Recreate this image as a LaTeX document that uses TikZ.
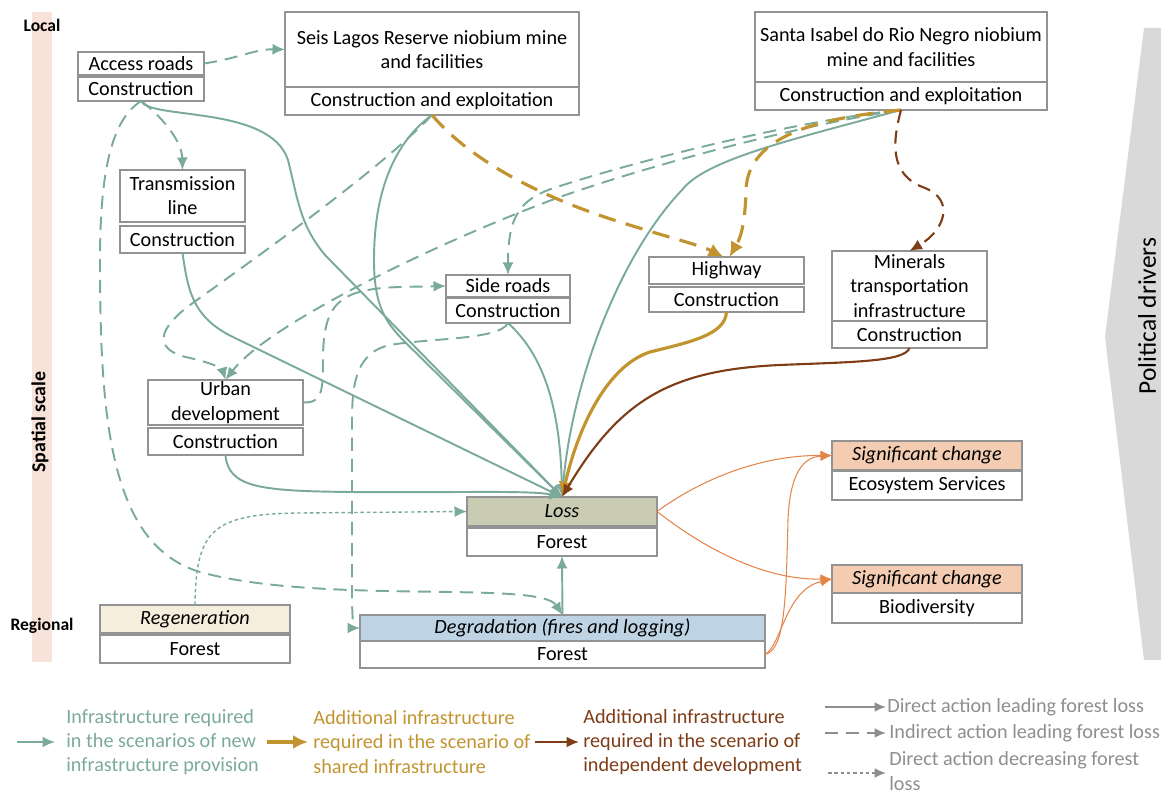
\documentclass[tikz,border=0pt]{standalone}
\usepackage{fontspec}
\setmainfont{Carlito}
\usetikzlibrary{arrows.meta,positioning}
\definecolor{infrateal}{HTML}{7AAA9B}
\definecolor{sharedgold}{HTML}{C2942F}
\definecolor{indepbrown}{HTML}{7E3C17}
\definecolor{impactorange}{HTML}{E4854A}
\definecolor{boxgrey}{HTML}{939393}
\definecolor{legendgrey}{HTML}{8E8E8E}
\definecolor{lossfill}{HTML}{C9CCB3}
\definecolor{degfill}{HTML}{BED3E3}
\definecolor{regenfill}{HTML}{F6EEDD}
\definecolor{changefill}{HTML}{F3CCB2}
\definecolor{scalebar}{HTML}{F7E3D9}
\definecolor{drivergrey}{HTML}{D9D9D9}
\newcommand{\boxfont}{\fontsize{11.5}{13.8}\selectfont}
\tikzset{
  stagebox/.style={draw=boxgrey,line width=0.8pt,fill=white,align=center,inner sep=0.5pt,outer sep=0pt,font=\boxfont},
  effectbox/.style={stagebox,font=\boxfont\itshape},
  newinfra/.style={-{Latex[length=2.5mm,width=2.2mm]},line width=1.1pt,infrateal},
  sharedinfra/.style={-{Latex[length=3mm,width=2.8mm]},line width=1.8pt,sharedgold},
  indepinfra/.style={-{Latex[length=2.5mm,width=2.2mm]},line width=1.2pt,indepbrown},
  indirect/.style={dash pattern=on 7.5pt off 4.5pt},
  wideindirect/.style={dash pattern=on 10pt off 6pt},
  decreasing/.style={dash pattern=on 2pt off 1.6pt,line width=0.8pt},
  impact/.style={-{Latex[length=2.3mm,width=2mm]},line width=0.6pt,impactorange},
  legendtext/.style={anchor=west,align=left,inner sep=0pt,font=\boxfont},
  legendarrow/.style={-{Latex[length=2.3mm,width=2mm]},line width=1.1pt,legendgrey},
  scalelabel/.style={font=\fontsize{10}{12}\selectfont\bfseries}
}

\begin{document}
\begin{tikzpicture}[x=0.02cm,y=-0.02cm]
  \useasboundingbox (0,0) rectangle (1161,793);

  % Spatial scale and political drivers
  \fill[scalebar] (32,12) rectangle (52,662);
  \node[scalelabel] (local) at (42,25) {Local};
  \node[scalelabel] (regional) at (42,626) {Regional};
  \node[scalelabel,font=\fontsize{11.3}{13}\selectfont\bfseries,rotate=90] (spatial) at (40,422) {Spatial scale};
  \fill[drivergrey] (1144,28) -- (1161,28) -- (1161,660) -- (1144,660) -- (1105,337) -- cycle;
  \node[font=\fontsize{14.5}{17}\selectfont,rotate=90,inner sep=0pt] (drivers) at (1147,316) {Political drivers};

  % Infrastructure
  \node[stagebox,minimum width=2.52cm,minimum height=0.46cm] (access) at (141,63.5) {Access roads};
  \node[stagebox,minimum width=2.52cm,minimum height=0.48cm,below=0.04cm of access] (accessc) {Construction};
  \node[stagebox,minimum width=5.88cm,minimum height=1.5cm] (seis) at (432,49.5) {Seis Lagos Reserve niobium mine\\and facilities};
  \node[stagebox,minimum width=5.88cm,minimum height=0.56cm,below=0pt of seis] (seisc) {Construction and exploitation};
  \node[stagebox,minimum width=5.84cm,minimum height=1.4cm] (santa) at (901,47) {Santa Isabel do Rio Negro niobium\\mine and facilities};
  \node[stagebox,minimum width=5.84cm,minimum height=0.56cm,below=0pt of santa] (santac) {Construction and exploitation};
  \node[stagebox,minimum width=2.5cm,minimum height=1.04cm] (trans) at (182.5,196) {Transmission\\line};
  \node[stagebox,minimum width=2.5cm,minimum height=0.54cm,below=0.08cm of trans] (transc) {Construction};
  \node[stagebox,minimum width=2.48cm,minimum height=0.44cm] (side) at (508,286) {Side roads};
  \node[stagebox,minimum width=2.48cm,minimum height=0.5cm,below=0.02cm of side] (sidec) {Construction};
  \node[stagebox,minimum width=3.1cm,minimum height=0.9cm] (urban) at (225.5,402.5) {Urban\\development};
  \node[stagebox,minimum width=3.1cm,minimum height=0.54cm,below=0.06cm of urban] (urbanc) {Construction};
  \node[stagebox,minimum width=3.1cm,minimum height=0.54cm] (highway) at (726.5,270.5) {Highway};
  \node[stagebox,minimum width=3.1cm,minimum height=0.5cm,below=0.06cm of highway] (highwayc) {Construction};
  \node[stagebox,minimum width=3.1cm,minimum height=1.4cm] (minerals) at (909.5,286) {Minerals\\transportation\\infrastructure};
  \node[stagebox,minimum width=3.1cm,minimum height=0.54cm,below=0pt of minerals] (mineralsc) {Construction};

  % Forest outcomes
  \node[effectbox,fill=lossfill,minimum width=3.8cm,minimum height=0.58cm] (loss) at (562,511.5) {Loss};
  \node[stagebox,minimum width=3.8cm,minimum height=0.56cm,below=0.04cm of loss] (lossf) {Forest};
  \node[effectbox,fill=regenfill,minimum width=3.8cm,minimum height=0.56cm] (regen) at (195,619) {Regeneration};
  \node[stagebox,minimum width=3.8cm,minimum height=0.56cm,below=0.04cm of regen] (regenf) {Forest};
  \node[effectbox,fill=degfill,minimum width=8.1cm,minimum height=0.52cm] (degr) at (562.5,628) {Degradation (fires and logging)};
  \node[stagebox,minimum width=8.1cm,minimum height=0.54cm,below=0pt of degr] (degrf) {Forest};

  % Impacts
  \node[effectbox,fill=changefill,minimum width=3.8cm,minimum height=0.58cm] (ecochange) at (927,455.5) {Significant change};
  \node[stagebox,minimum width=3.8cm,minimum height=0.58cm,below=0.02cm of ecochange] (ecoserv) {Ecosystem Services};
  \node[effectbox,fill=changefill,minimum width=3.8cm,minimum height=0.56cm] (biochange) at (927,579) {Significant change};
  \node[stagebox,minimum width=3.8cm,minimum height=0.6cm,below=0pt of biochange] (biodiv) {Biodiversity};

  % New infrastructure provision
  \draw[newinfra,indirect] (access.east) .. controls (240,58) and (255,49) .. (seis.west);
  \draw[newinfra,indirect] (accessc.south) .. controls (160,115) and (182,140) .. (trans.north);
  \draw[newinfra] (accessc.south) .. controls (150,120) and (270,105) .. (288,160) .. controls (298,200) and (300,225) .. (325,255) -- (loss.north);
  \draw[newinfra,indirect] (accessc.south) .. controls (115,118) and (100,160) .. (100,260) .. controls (100,420) and (110,545) .. (200,572) .. controls (320,605) and (540,580) .. (degr.north);
  \draw[newinfra] (transc.south) .. controls (188,290) and (192,318) .. (235,338) -- (loss.north);
  \draw[newinfra] (seisc.south) .. controls (395,142) and (374,190) .. (374,260) .. controls (374,305) and (385,322) .. (405,342) -- (loss.north);
  \draw[newinfra,indirect] (seisc.south) .. controls (380,170) and (250,262) .. (190,305) .. controls (150,335) and (160,352) .. (190,358) .. controls (208,362) and (222,368) .. (urban.north);
  \draw[newinfra,indirect] (santac.south) .. controls (800,125) and (650,165) .. (560,197) .. controls (450,237) and (270,322) .. (urban.north);
  \draw[newinfra,indirect] (santac.south) .. controls (800,120) and (640,160) .. (560,186) .. controls (520,198) and (508,215) .. (side.north);
  \draw[newinfra] (santac.south) .. controls (790,140) and (705,160) .. (682,190) .. controls (620,255) and (572,380) .. (loss.north);
  \draw[newinfra] (sidec.south) .. controls (532,345) and (560,385) .. (loss.north);
  \draw[newinfra,indirect] (sidec.south) .. controls (500,340) and (430,338) .. (390,345) .. controls (358,352) and (352,380) .. (352,420) -- (352,598) .. controls (352,620) and (355,628) .. (degr.west);
  \draw[newinfra,indirect] (urban.east) .. controls (322,403) and (323,392) .. (323,360) .. controls (323,302) and (340,289) .. (400,287) -- (side.west);
  \draw[newinfra] (urbanc.south) .. controls (228,488) and (262,491) .. (350,492) .. controls (450,493) and (530,490) .. (loss.north);
  \draw[newinfra] (degr.north) -- (lossf.south);
  \draw[newinfra,decreasing] (regen.north) .. controls (196,530) and (212,514) .. (300,513) -- (loss.west);

  % Shared infrastructure
  \draw[sharedinfra,wideindirect] (seisc.south) .. controls (470,160) and (540,197) .. (620,222) .. controls (670,238) and (700,245) .. ([xshift=-0.06cm]highway.north);
  \draw[sharedinfra,wideindirect] (santac.south) .. controls (820,118) and (748,135) .. (746,190) .. controls (745,232) and (738,242) .. ([xshift=0.06cm]highway.north);
  \draw[sharedinfra] (highwayc.south) .. controls (725,335) and (690,342) .. (650,352) .. controls (610,365) and (580,420) .. (loss.north);

  % Independent development
  \draw[indepinfra,indirect] (santac.south) .. controls (893,140) and (888,175) .. (925,188) .. controls (955,200) and (945,230) .. (minerals.north);
  \draw[indepinfra] (mineralsc.south) .. controls (905,362) and (850,362) .. (780,365) .. controls (670,370) and (620,400) .. (loss.north);

  % Impacts
  \draw[impact] (loss.east) .. controls (700,480) and (760,455) .. (ecochange.west);
  \draw[impact] (loss.east) .. controls (700,545) and (760,580) .. (biochange.west);
  \draw[impact] (degrf.east) .. controls (785,650) and (786,600) .. (788,520) .. controls (790,470) and (805,457) .. (ecochange.west);
  \draw[impact] (degrf.east) .. controls (782,645) and (785,590) .. (biochange.west);

  % Legend
  \coordinate (newA) at (17,742);
  \coordinate (newB) at (55,742);
  \draw[newinfra] (newA) -- (newB);
  \node[legendtext,text=infrateal] (newtext) at (66,742) {Infrastructure required\\in the scenarios of new\\infrastructure provision};
  \coordinate (sharedA) at (267,742);
  \coordinate (sharedB) at (308,742);
  \draw[sharedinfra] (sharedA) -- (sharedB);
  \node[legendtext,text=sharedgold] (sharedtext) at (313,742) {Additional infrastructure\\required in the scenario of\\shared infrastructure};
  \coordinate (indepA) at (535,742);
  \coordinate (indepB) at (579,742);
  \draw[indepinfra] (indepA) -- (indepB);
  \node[legendtext,text=indepbrown] (indeptext) at (583,742) {Additional infrastructure\\required in the scenario of\\independent development};
  \coordinate (directA) at (825,707);
  \coordinate (directB) at (886,707);
  \draw[legendarrow] (directA) -- (directB);
  \node[legendtext,text=legendgrey] (directtext) at (887,707) {Direct action leading forest loss};
  \coordinate (indirA) at (825,733);
  \coordinate (indirB) at (886,733);
  \draw[legendarrow,indirect] (indirA) -- (indirB);
  \node[legendtext,text=legendgrey] (indirtext) at (889,733) {Indirect action leading forest loss};
  \coordinate (decrA) at (828,773);
  \coordinate (decrB) at (886,773);
  \draw[legendarrow,decreasing] (decrA) -- (decrB);
  \node[legendtext,text=legendgrey] (decrtext) at (889,771) {Direct action decreasing forest\\loss};
\end{tikzpicture}
\end{document}
